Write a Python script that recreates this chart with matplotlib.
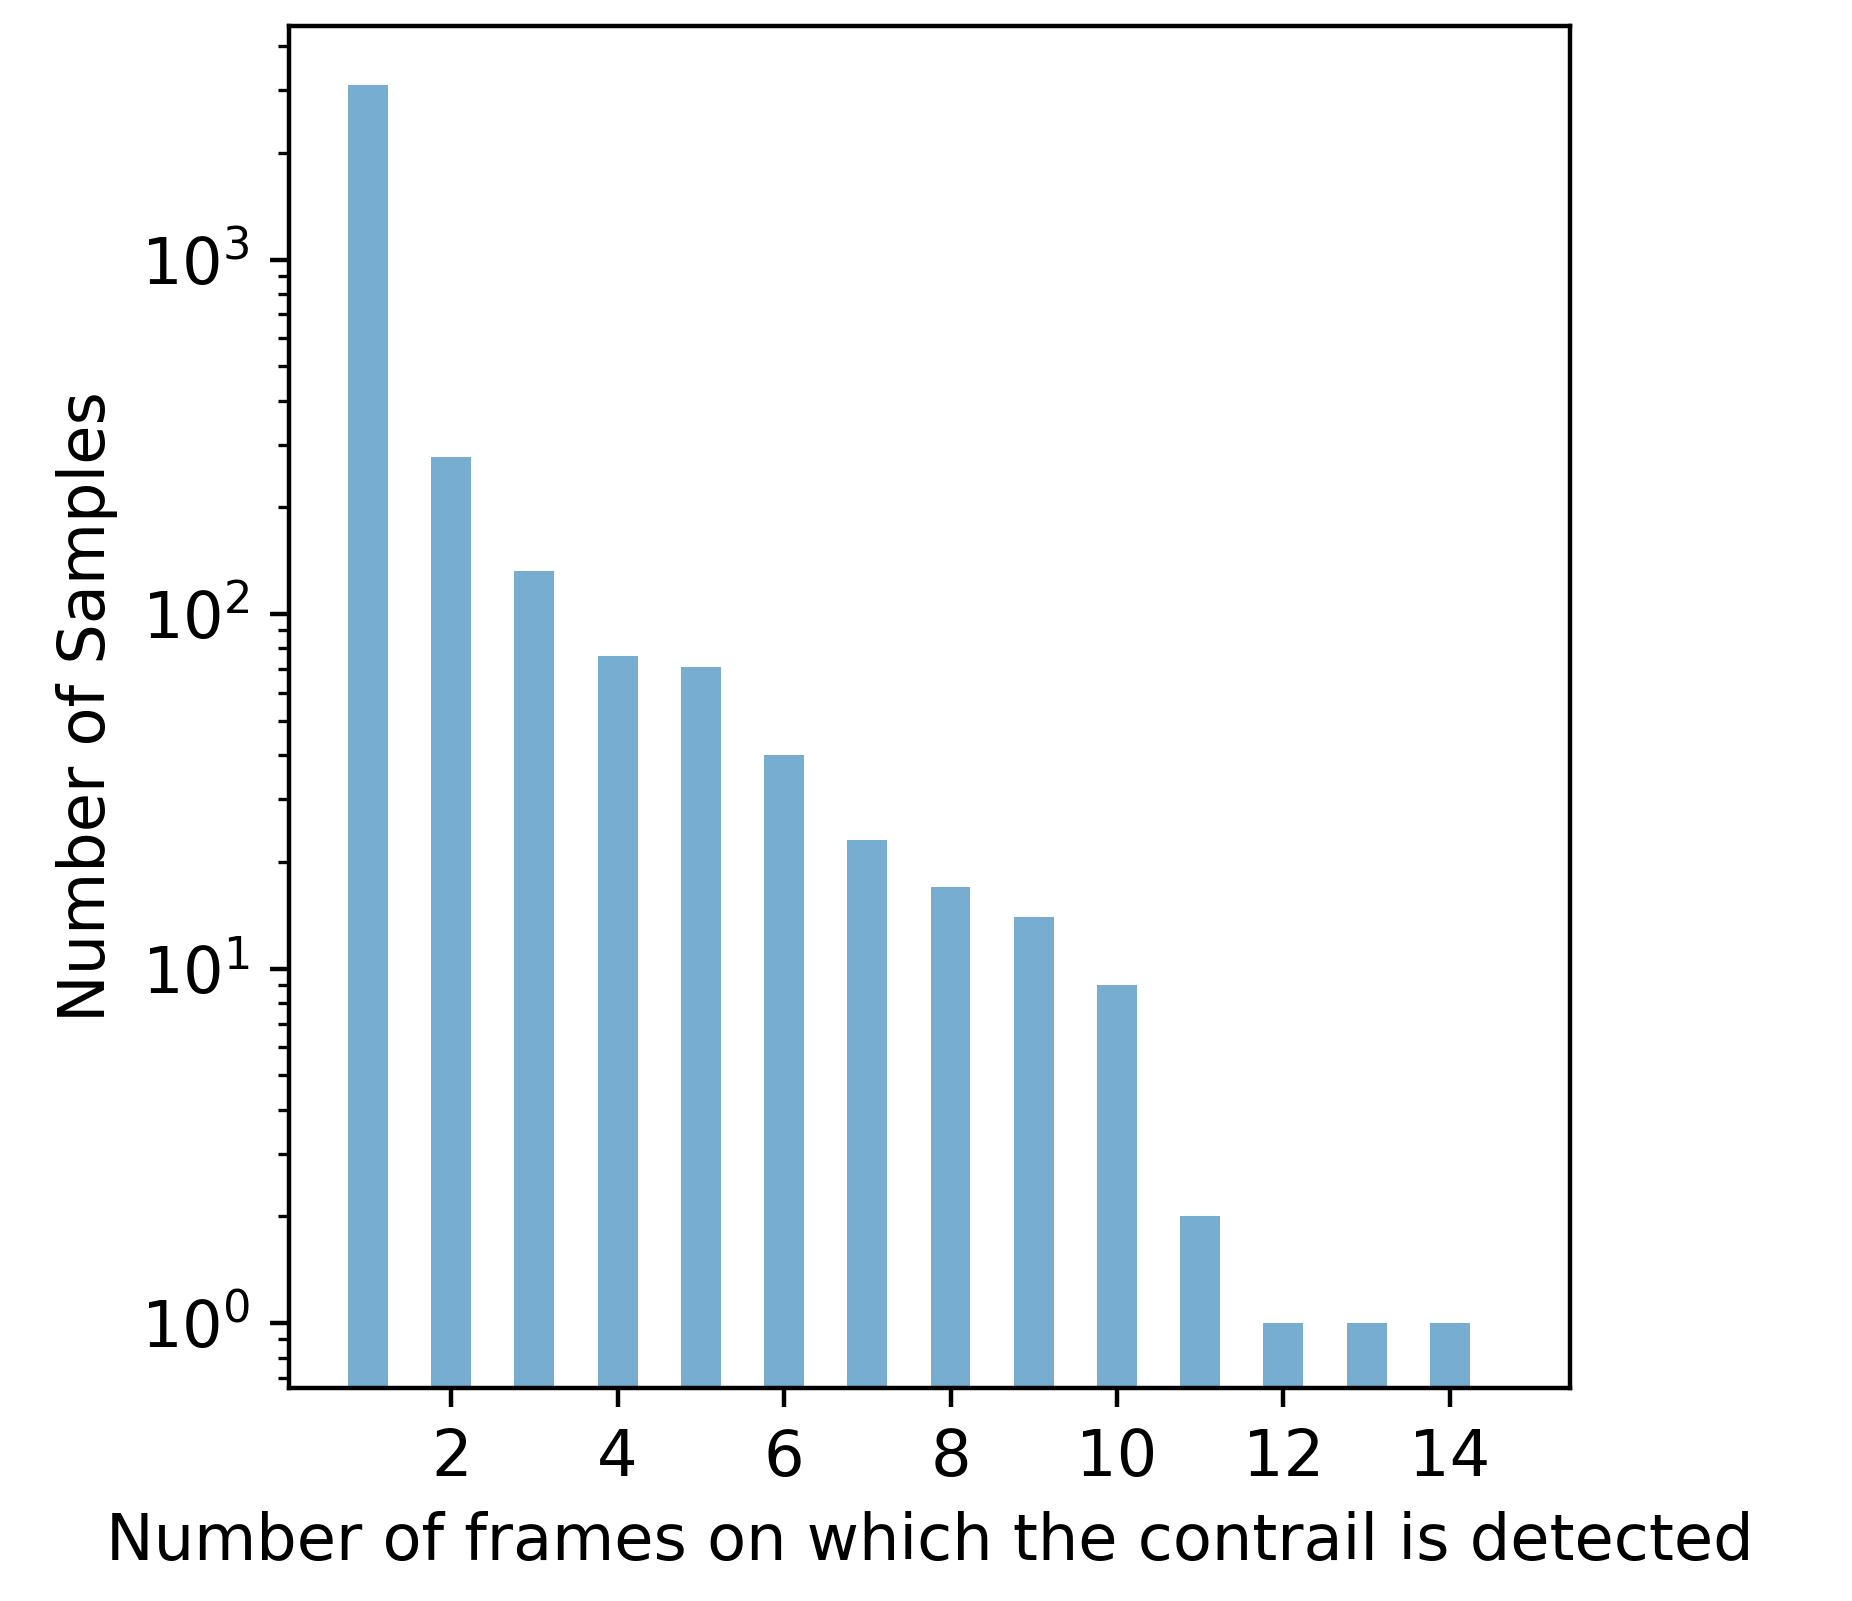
import matplotlib
matplotlib.use("Agg")
import matplotlib.pyplot as plt

frames = [1, 2, 3, 4, 5, 6, 7, 8, 9, 10, 11, 12, 13, 14]
samples = [3100, 277, 132, 76, 71, 40, 23, 17, 14, 9, 2, 1, 1, 1]

plt.rcParams['font.size'] = 11.5
fig = plt.figure(figsize=(4.63, 4.0025), dpi=400)
ax = fig.add_axes([0.156, 0.133, 0.692, 0.851])
ax.bar(frames, samples, width=0.48, color='#1f77b4', alpha=0.6)
ax.set_yscale('log')
ax.set_xlim(0.05, 15.45)
ax.set_ylim(0.656, 4570)
ax.set_xticks([2, 4, 6, 8, 10, 12, 14])
ax.set_xlabel('Number of frames on which the contrail is detected')
ax.set_ylabel('Number of Samples')
fig.savefig('out.png')
